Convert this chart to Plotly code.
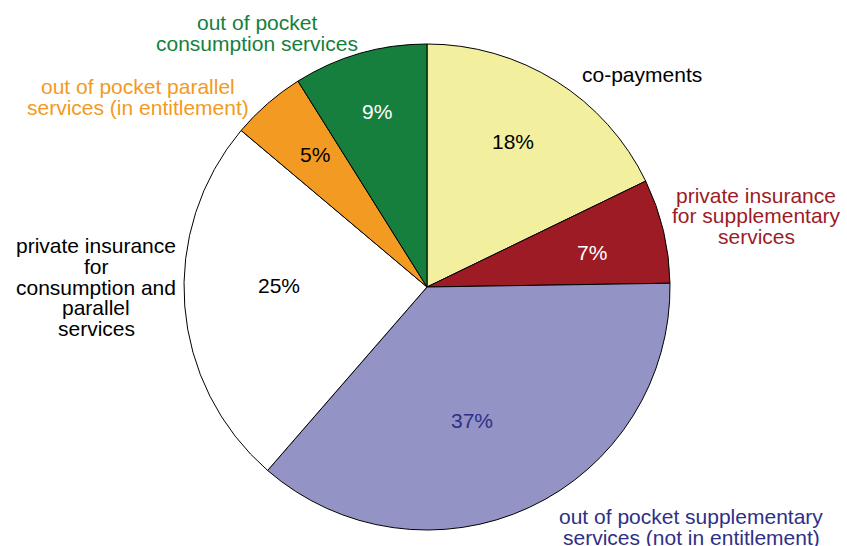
import plotly.graph_objects as go

# Shares of private health spending, clockwise from 12 o'clock
categories = [
    "co-payments",
    "private insurance for supplementary services",
    "out of pocket supplementary services (not in entitlement)",
    "private insurance for consumption and parallel services",
    "out of pocket parallel services (in entitlement)",
    "out of pocket consumption services",
]
shares = [18, 7, 37, 25, 5, 9]

# Outside label text, one entry per line
label_lines = [
    ["co-payments"],
    ["private insurance", "for supplementary", "services"],
    ["out of pocket supplementary", "services (not in entitlement)"],
    ["private insurance", "for", "consumption and", "parallel", "services"],
    ["out of pocket parallel", "services (in entitlement)"],
    ["out of pocket", "consumption services"],
]

slice_colors = ["#F2F09E", "#9D1B25", "#9393C6", "#FFFFFF", "#F39A22", "#167F3D"]
inside_text_colors = ["#000000", "#FFFFFF", "#2E3087", "#000000", "#000000", "#FFFFFF"]
label_colors = ["#000000", "#9D1B25", "#2E3087", "#000000", "#F39A22", "#167F3D"]

W, H = 847, 546
FONT = "Liberation Sans, Arial, sans-serif"
FONT_SIZE = 21
LINE_STEP = 20.5

# Centre of each outside label block (pixels from top-left)
label_anchor_px = [
    (642, 75),
    (756, 216),
    (691, 527),
    (96, 287),
    (138, 97),
    (257, 33),
]

# Centre of each percentage label inside its slice (pixels from top-left)
pct_anchor_px = [
    (513, 142),
    (592, 252),
    (472, 420),
    (279, 285),
    (315, 154),
    (377, 112),
]

cx, cy, r = 427, 287, 243


def paper(px, py):
    return px / W, 1 - py / H


fig = go.Figure(
    go.Pie(
        labels=categories,
        values=shares,
        sort=False,
        direction="clockwise",
        rotation=0,
        marker=dict(colors=slice_colors, line=dict(color="#000000", width=1)),
        textinfo="none",
        hoverinfo="label+value",
        domain=dict(x=[(cx - r) / W, (cx + r) / W], y=[(H - cy - r) / H, (H - cy + r) / H]),
        showlegend=False,
    )
)

annotations = []

# Percentage labels, text taken from the slice values
for value, color, (px, py) in zip(shares, inside_text_colors, pct_anchor_px):
    x, y = paper(px, py)
    annotations.append(
        dict(
            text=f"{value}%",
            x=x, y=y, xref="paper", yref="paper",
            xanchor="center", yanchor="middle", showarrow=False,
            font=dict(family=FONT, size=FONT_SIZE, color=color),
        )
    )

# Category labels around the pie, one annotation per line for tight leading
for lines, color, (ax, ay) in zip(label_lines, label_colors, label_anchor_px):
    n = len(lines)
    for i, line in enumerate(lines):
        x, y = paper(ax, ay + (i - (n - 1) / 2) * LINE_STEP)
        annotations.append(
            dict(
                text=line,
                x=x, y=y, xref="paper", yref="paper",
                xanchor="center", yanchor="middle", showarrow=False,
                font=dict(family=FONT, size=FONT_SIZE, color=color),
            )
        )

fig.update_layout(
    width=W,
    height=H,
    margin=dict(l=0, r=0, t=0, b=0),
    paper_bgcolor="white",
    plot_bgcolor="white",
    annotations=annotations,
)

fig.write_html("out.html")
